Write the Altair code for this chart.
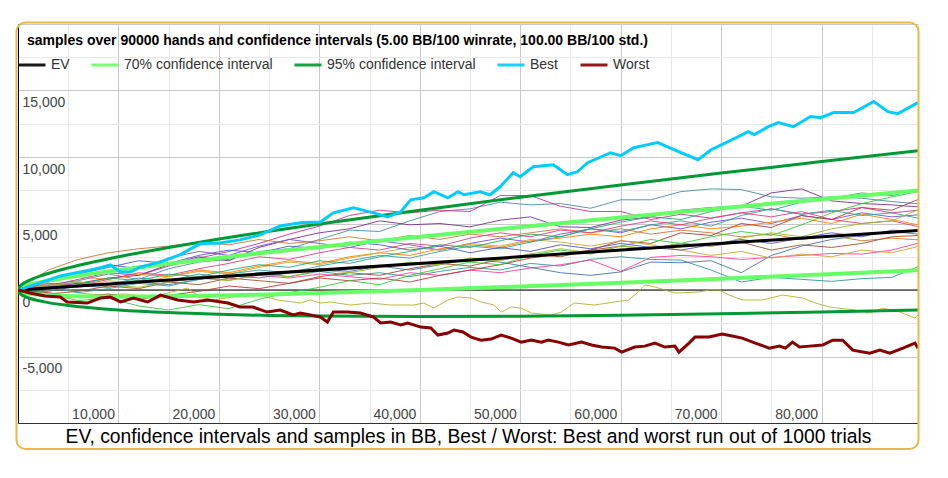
import altair as alt
import pandas as pd

TITLE = "samples over 90000 hands and confidence intervals (5.00 BB/100 winrate, 100.00 BB/100 std.)"
CAPTION = "EV, confidence intervals and samples in BB, Best / Worst: Best and worst run out of 1000 trials"

MAIN_NAMES = ["EV", "70% confidence interval", "95% confidence interval", "Best", "Worst"]
MAIN_COLORS = ["#000000", "#66ff66", "#009933", "#00ccff", "#880000"]

X_GRID = [5000 * i for i in range(1, 18)]
Y_GRID = [-10000 + 2500 * i for i in range(0, 13)]

# EV and confidence bands (BB)
HANDS_CI = [0, 250, 500, 1000, 2500, 5000, 7500, 10000, 15000, 20000, 25000, 30000,
            40000, 50000, 60000, 70000, 80000, 89600]
CI70_UP = [0, 170, 249, 366, 625, 957, 1241, 1500, 1975, 2414, 2831, 3232, 4000, 4736, 5449, 6146, 6828, 7473]
CI70_LO = [0, -146, -199, -266, -375, -457, -491, -500, -475, -414, -331, -232, 0, 264, 551, 854, 1172, 1487]
CI95_UP = [0, 329, 473, 682, 1125, 1664, 2107, 2500, 3200, 3828, 4412, 4964, 6000, 6972, 7898, 8792, 9656, 10466]
CI95_LO = [0, -304, -423, -582, -875, -1164, -1357, -1500, -1700, -1828, -1912, -1964, -2000, -1972, -1898, -1792, -1656, -1506]
EV_HANDS = [0, 89600]
EV_VALUES = [0, 4480]

BEST = [(0, 0), (2200, 530), (4200, 1050), (6200, 1360), (8200, 1660), (9200, 1880), (10200, 1360),
        (11200, 1360), (12200, 1730), (14200, 2110), (16100, 2640), (18100, 3470), (20100, 3540),
        (22100, 3770), (24100, 4140), (26100, 4820), (28100, 5050), (30100, 5120), (31400, 5800),
        (33400, 6180), (35400, 5800), (36800, 5500), (38100, 5880), (39100, 6780), (40400, 6930),
        (41400, 7390), (42800, 6930), (43800, 7390), (44400, 7160), (46000, 7390), (47000, 7160),
        (48000, 7760), (49300, 8820), (50000, 8520), (51300, 9270), (53300, 9420), (54700, 8670),
        (55700, 8890), (56700, 9570), (59000, 10320), (60000, 10100), (61300, 10700), (62700, 10930),
        (63700, 11080), (65300, 10550), (67700, 9800), (69000, 10550), (70700, 11150), (72700, 11910),
        (73300, 11680), (74700, 12280), (75700, 12590), (77200, 12280), (78900, 13040), (79900, 12960),
        (81200, 13340), (83200, 13340), (85200, 14170), (86600, 13410), (87600, 13260), (89600, 14090)]

WORST = [(0, 0), (1200, -230), (2700, -450), (4200, -530), (4900, -900), (6900, -980), (8200, -600),
         (9200, -530), (10200, -900), (11500, -600), (12900, -900), (14200, -380), (15900, -750),
         (17500, -900), (18900, -750), (20900, -980), (22100, -1280), (23400, -1280), (24800, -1660),
         (26100, -1510), (27400, -1880), (28100, -1730), (30100, -2030), (30800, -2410), (31400, -1660),
         (32800, -1660), (34100, -1730), (35400, -2030), (36100, -2480), (37100, -2410), (38100, -2630),
         (38800, -2480), (40100, -2790), (41100, -2860), (41800, -3390), (42800, -3240), (43400, -3010),
         (44300, -3160), (45100, -3540), (46100, -3770), (47100, -3690), (48100, -3390), (49100, -3620),
         (50100, -3920), (51100, -3770), (52100, -3920), (52800, -3770), (53800, -3920), (54800, -4140),
         (56100, -3920), (57100, -4140), (58100, -4290), (59400, -4370), (60100, -4670), (61400, -4290),
         (62400, -4220), (63400, -3990), (64400, -4290), (65400, -4220), (65800, -4670), (66800, -3990),
         (67400, -3540), (68800, -3540), (70100, -3310), (71100, -3460), (72100, -3620), (73400, -3990),
         (74800, -4370), (75800, -4220), (76400, -4370), (77100, -3920), (77800, -4290), (78800, -4220),
         (80100, -4140), (81100, -3770), (82100, -3770), (83100, -4520), (84800, -4750), (85800, -4520),
         (86800, -4750), (88100, -4370), (89300, -3990), (89600, -4370)]

OLIVE = [(0, 0), (2200, -150), (4200, 150), (6200, -230), (8200, -380), (10700, -300), (13200, -530),
         (14900, -230), (16900, 150), (18100, -530), (19400, -750), (21400, -530), (24100, -380),
         (25800, -750), (28100, -980), (29100, -750), (30100, -980), (31100, -900), (33100, -1130),
         (35100, -980), (37100, -1130), (39400, -1130), (40400, -980), (41400, -1360), (42800, -750),
         (43800, -530), (45100, -600), (46100, -900), (47400, -1130), (48100, -1660), (49100, -1280),
         (50100, -1360), (51100, -1730), (53100, -1880), (54100, -1660), (54800, -1280), (55400, -980),
         (57400, -1130), (59400, -900), (60800, -750), (61400, -380), (62100, 150), (62400, 380),
         (63400, 230), (64400, 0), (65400, -230), (67800, -150), (68800, 0), (69800, 0), (70800, -380),
         (72100, -750), (74100, -750), (76100, -380), (78100, -600), (79400, -980), (80800, -1280),
         (83400, -1510), (84800, -1730), (86100, -1360), (87800, -1660), (89300, -2110), (89600, -1880)]

THIN_HANDS = [3000 * i for i in range(30)] + [89600]
T1 = [0, 300, 600, 400, 900, 700, 1200, 900, 1300, 1000, 1400, 1100, 1300, 1000, 1400, 1700, 1500, 2000, 1800, 2300, 2500, 2300, 2250, 1500, 600, 950, 800, 650, 850, 950, 1750]
PK = [0, 200, 500, 350, 700, 600, 900, 750, 1100, 900, 1200, 1000, 800, 1300, 1100, 1500, 1300, 1650, 1900, 2250, 1400, 2450, 2600, 2500, 2300, 2450, 2600, 2750, 2700, 3000, 3520]
SB = [0, -100, 300, 200, 600, 400, 800, 1100, 900, 1300, 1600, 1400, 1800, 1500, 1900, 2300, 2100, 1700, 1300, 1100, 1360, 2100, 2050, 2200, 1300, 2600, 3300, 3800, 4100, 4400, 4200]
U1 = [0, 400, 700, 1200, 800, 1600, 2100, 2300, 2900, 3100, 3800, 4500, 4400, 5200, 5900, 6100, 6600, 6400, 6500, 6150, 6780, 6780, 7400, 7600, 7550, 7000, 6900, 7000, 6900, 6650, 6480]
MG = [0, 300, 800, 1300, 1100, 1800, 2400, 2900, 3500, 4200, 4800, 5600, 6000, 5800, 6000, 5900, 7100, 7100, 6300, 5900, 5900, 5300, 5700, 5400, 5800, 6100, 5700, 5900, 6200, 5800, 6000]
DP = [0, 200, 500, 900, 1100, 1900, 2500, 2200, 3200, 3800, 4300, 4600, 5200, 4900, 5000, 4750, 5250, 5500, 4750, 4700, 5250, 5500, 6000, 6200, 6300, 7300, 7600, 6700, 6500, 6400, 6250]
PB = [0, 700, 1300, 1900, 1600, 2400, 2900, 2600, 3300, 3800, 3500, 3200, 3700, 3400, 3000, 3500, 3900, 3600, 4200, 4600, 4300, 4900, 4600, 5100, 5400, 5000, 5600, 5300, 5800, 5500, 5650]
OR = [0, 600, 1000, 800, 1200, 1000, 1500, 1300, 1800, 2200, 2000, 2500, 2800, 2600, 3100, 3400, 3200, 3700, 3900, 4200, 4000, 4600, 4900, 4600, 4800, 5100, 5400, 5000, 5700, 5300, 4900]
DO = [0, 1500, 2300, 2800, 3100, 3300, 3600, 3400, 3800, 3500, 3700, 4000, 3700, 4100, 3800, 4200, 4000, 4300, 4600, 4300, 4600, 4200, 4500, 4300, 4000, 4200, 3800, 4100, 3700, 3900, 3770]
BR = [0, -300, -100, 300, 100, 600, 400, 900, 700, 500, 1000, 1300, 1100, 1600, 2000, 1800, 2300, 2700, 2500, 3000, 3300, 3100, 3500, 3300, 3600, 3000, 3400, 3200, 3500, 4000, 4100]
RB = [0, -200, -500, -300, -700, -400, -100, 300, 100, 500, 900, 700, 900, 600, 1100, 1500, 1900, 2400, 2700, 3000, 3700, 3500, 4300, 4100, 5000, 4700, 5600, 5300, 6200, 6000, 6800]
LG = [0, -300, -800, -600, -1200, -1500, -1100, -1400, -700, -200, 200, 700, 400, 1100, 1600, 2100, 1900, 2600, 3000, 2700, 3300, 3800, 3500, 4000, 4400, 4100, 4900, 5800, 6500, 7000, 7400]
GD = [0, 400, 200, 700, 500, 1000, 1400, 1200, 1700, 2100, 1900, 2400, 2800, 3200, 3000, 3500, 3300, 3800, 3600, 3300, 3700, 3400, 3000, 2600, 2900, 2400, 2700, 2500, 3000, 2800, 3270]
CT = [0, 200, -200, 100, 500, 300, 800, 1200, 1500, 1300, 1800, 2200, 2600, 2400, 2900, 3300, 3100, 3600, 4000, 4600, 4400, 4900, 5200, 4800, 5600, 6100, 5700, 6000, 5600, 5800, 5400]
CR = [0, 500, 300, 800, 1300, 1100, 1600, 2000, 2500, 2300, 2800, 3200, 3000, 3500, 3300, 3900, 4300, 4000, 4500, 4300, 4800, 5200, 4900, 5400, 5800, 5500, 5900, 5300, 5000, 5200, 4770]
YG = [0, 300, 600, 400, 200, 600, 900, 700, 1200, 1000, 1500, 1300, 1700, 2100, 1900, 2400, 2200, 2700, 3100, 2800, 3300, 3100, 3500, 3300, 3900, 4300, 4000, 4600, 5000, 5200, 6030]
IN = [0, 600, 1200, 1700, 2200, 2000, 2600, 3000, 2800, 3300, 3100, 3600, 3400, 3000, 3300, 2800, 3200, 2900, 3400, 3100, 3500, 3200, 3000, 3400, 3800, 3500, 3900, 4300, 4000, 4500, 4400]
TG = [0, 100, 400, 900, 700, 1200, 1000, 1500, 1900, 1700, 2200, 2000, 2500, 2900, 3400, 3200, 3700, 4200, 4000, 4600, 5100, 5500, 5300, 5900, 6300, 6000, 6600, 6900, 7300, 7100, 7540]

THIN = [("s01", "#2e9999", T1), ("s02", "#ff3d9e", PK), ("s03", "#4477aa", SB), ("s04", "#4a8ca8", U1),
        ("s05", "#cc3399", MG), ("s06", "#7f2f8f", DP), ("s07", "#7a4fd6", PB), ("s08", "#ff8000", OR),
        ("s09", "#cc7a33", DO), ("s10", "#a0522d", BR), ("s11", "#b33c3c", RB), ("s12", "#33cc33", LG),
        ("s13", "#cca633", GD), ("s14", "#33a3a3", CT), ("s15", "#e0407a", CR), ("s16", "#99bb22", YG),
        ("s17", "#5555cc", IN), ("s18", "#22aa77", TG)]

thin_rows = [{"series": "s00", "line": "s00", "hands": h, "bb": v} for h, v in OLIVE]
for name, _, vals in THIN:
    thin_rows += [{"series": name, "line": name, "hands": h, "bb": v} for h, v in zip(THIN_HANDS, vals)]
thin_df = pd.DataFrame(thin_rows)

ci_rows = []
for name, line, vals in [("70% confidence interval", "u70", CI70_UP), ("70% confidence interval", "l70", CI70_LO),
                         ("95% confidence interval", "u95", CI95_UP), ("95% confidence interval", "l95", CI95_LO)]:
    ci_rows += [{"series": name, "line": line, "hands": h, "bb": v} for h, v in zip(HANDS_CI, vals)]
ci_df = pd.DataFrame(ci_rows)
ci70_df = ci_df[ci_df.series.str.startswith("70")]
ci95_df = ci_df[ci_df.series.str.startswith("95")]

ev_df = pd.DataFrame({"series": "EV", "line": "ev", "hands": EV_HANDS, "bb": EV_VALUES})
bw_df = pd.DataFrame([{"series": "Best", "line": "best", "hands": h, "bb": v} for h, v in BEST] +
                     [{"series": "Worst", "line": "worst", "hands": h, "bb": v} for h, v in WORST])

THIN_NAMES = ["s00"] + [t[0] for t in THIN]
THIN_COLORS = ["#b3b32d"] + [t[1] for t in THIN]

FONT = "Liberation Sans"

xscale = alt.Scale(domain=[0, 89600], nice=False, zero=False)
yscale = alt.Scale(domain=[-10000, 20000], nice=False, zero=False)

xaxis = alt.Axis(
    values=X_GRID,
    labelExpr="datum.value % 10000 === 0 ? format(datum.value, ',') : ''",
    grid=True, gridColor={"condition": {"test": "datum.value % 10000 === 0", "value": "#c8c8c8"}, "value": "#e8e8e8"},
    gridWidth=1, ticks=False, tickSize=0, labelPadding=-5, labelAlign="right", labelBaseline="alphabetic",
    labelOffset=-4, labelFont=FONT, labelFontSize=14, labelColor="#444444", labelFlush=False, labelOverlap=False,
    domainColor="#333333", domainWidth=1,
    title=CAPTION, titleFont=FONT, titleFontSize=19.3, titleFontWeight="normal", titleColor="#000000",
    titleX=450, titleY=19, titleAlign="center", titleBaseline="alphabetic",
)
yaxis = alt.Axis(
    values=Y_GRID,
    labelExpr="datum.value % 5000 === 0 && datum.value > -10000 && datum.value < 20000 ? "
              "(datum.value < 0 ? '-' : '') + format(abs(datum.value), ',') : ''",
    grid=True, gridColor={"condition": {"test": "datum.value % 5000 === 0", "value": "#c8c8c8"}, "value": "#e8e8e8"},
    gridWidth=1, ticks=False, tickSize=0, labelPadding=-4, labelAlign="left", labelBaseline="top",
    labelOffset=5, labelFont=FONT, labelFontSize=14, labelColor="#444444", labelFlush=False, labelOverlap=False,
    domainColor="#000000", domainWidth=1, title=None,
)

color_scale = alt.Scale(domain=MAIN_NAMES + THIN_NAMES, range=MAIN_COLORS + THIN_COLORS)
legend = alt.Legend(values=MAIN_NAMES, orient="none", legendX=-1, legendY=26, direction="horizontal", columns=5,
                    title=None, symbolType="stroke", symbolSize=729, symbolStrokeWidth=3, labelFont=FONT,
                    labelFontSize=14, labelColor="#333333", labelOffset=4, columnPadding=15, padding=0,
                    labelLimit=400)


def enc(ch):
    return ch.encode(
        x=alt.X("hands:Q", scale=xscale, axis=xaxis),
        y=alt.Y("bb:Q", scale=yscale, axis=yaxis),
        color=alt.Color("series:N", scale=color_scale, legend=legend),
        detail="line:N",
    )


zero = alt.Chart(pd.DataFrame({"bb": [0]})).mark_rule(color="#000000", strokeWidth=1).encode(
    y=alt.Y("bb:Q", scale=yscale, axis=yaxis))
thin = enc(alt.Chart(thin_df).mark_line(strokeWidth=1, clip=True, opacity=0.9))
ci70 = enc(alt.Chart(ci70_df).mark_line(strokeWidth=4, clip=True, interpolate="monotone"))
ci95 = enc(alt.Chart(ci95_df).mark_line(strokeWidth=3, clip=True, interpolate="monotone"))
ev = enc(alt.Chart(ev_df).mark_line(strokeWidth=3, clip=True))
bw = enc(alt.Chart(bw_df).mark_line(strokeWidth=3, clip=True))
frame = alt.Chart(pd.DataFrame({"k": [0]})).mark_rect(
    filled=False, stroke="#e9b84d", strokeWidth=2, cornerRadius=9).encode(
    x=alt.value(-1.5), x2=alt.value(900.5), y=alt.value(-1.5), y2=alt.value(425))

chart = alt.layer(zero, thin, ci70, ci95, ev, bw, frame).properties(
    width=900, height=399,
    title=alt.TitleParams(TITLE, anchor="start", frame="group", orient="top", offset=0, dx=9, dy=37,
                          baseline="alphabetic", font=FONT, fontSize=14, fontWeight="bold", color="#000000"),
    padding={"left": 10, "top": 16, "right": 22, "bottom": 40},
    autosize="none",
).configure_view(stroke=None).configure(background="#ffffff")

chart.save("out.html", embed_options={"renderer": "svg", "actions": False})
